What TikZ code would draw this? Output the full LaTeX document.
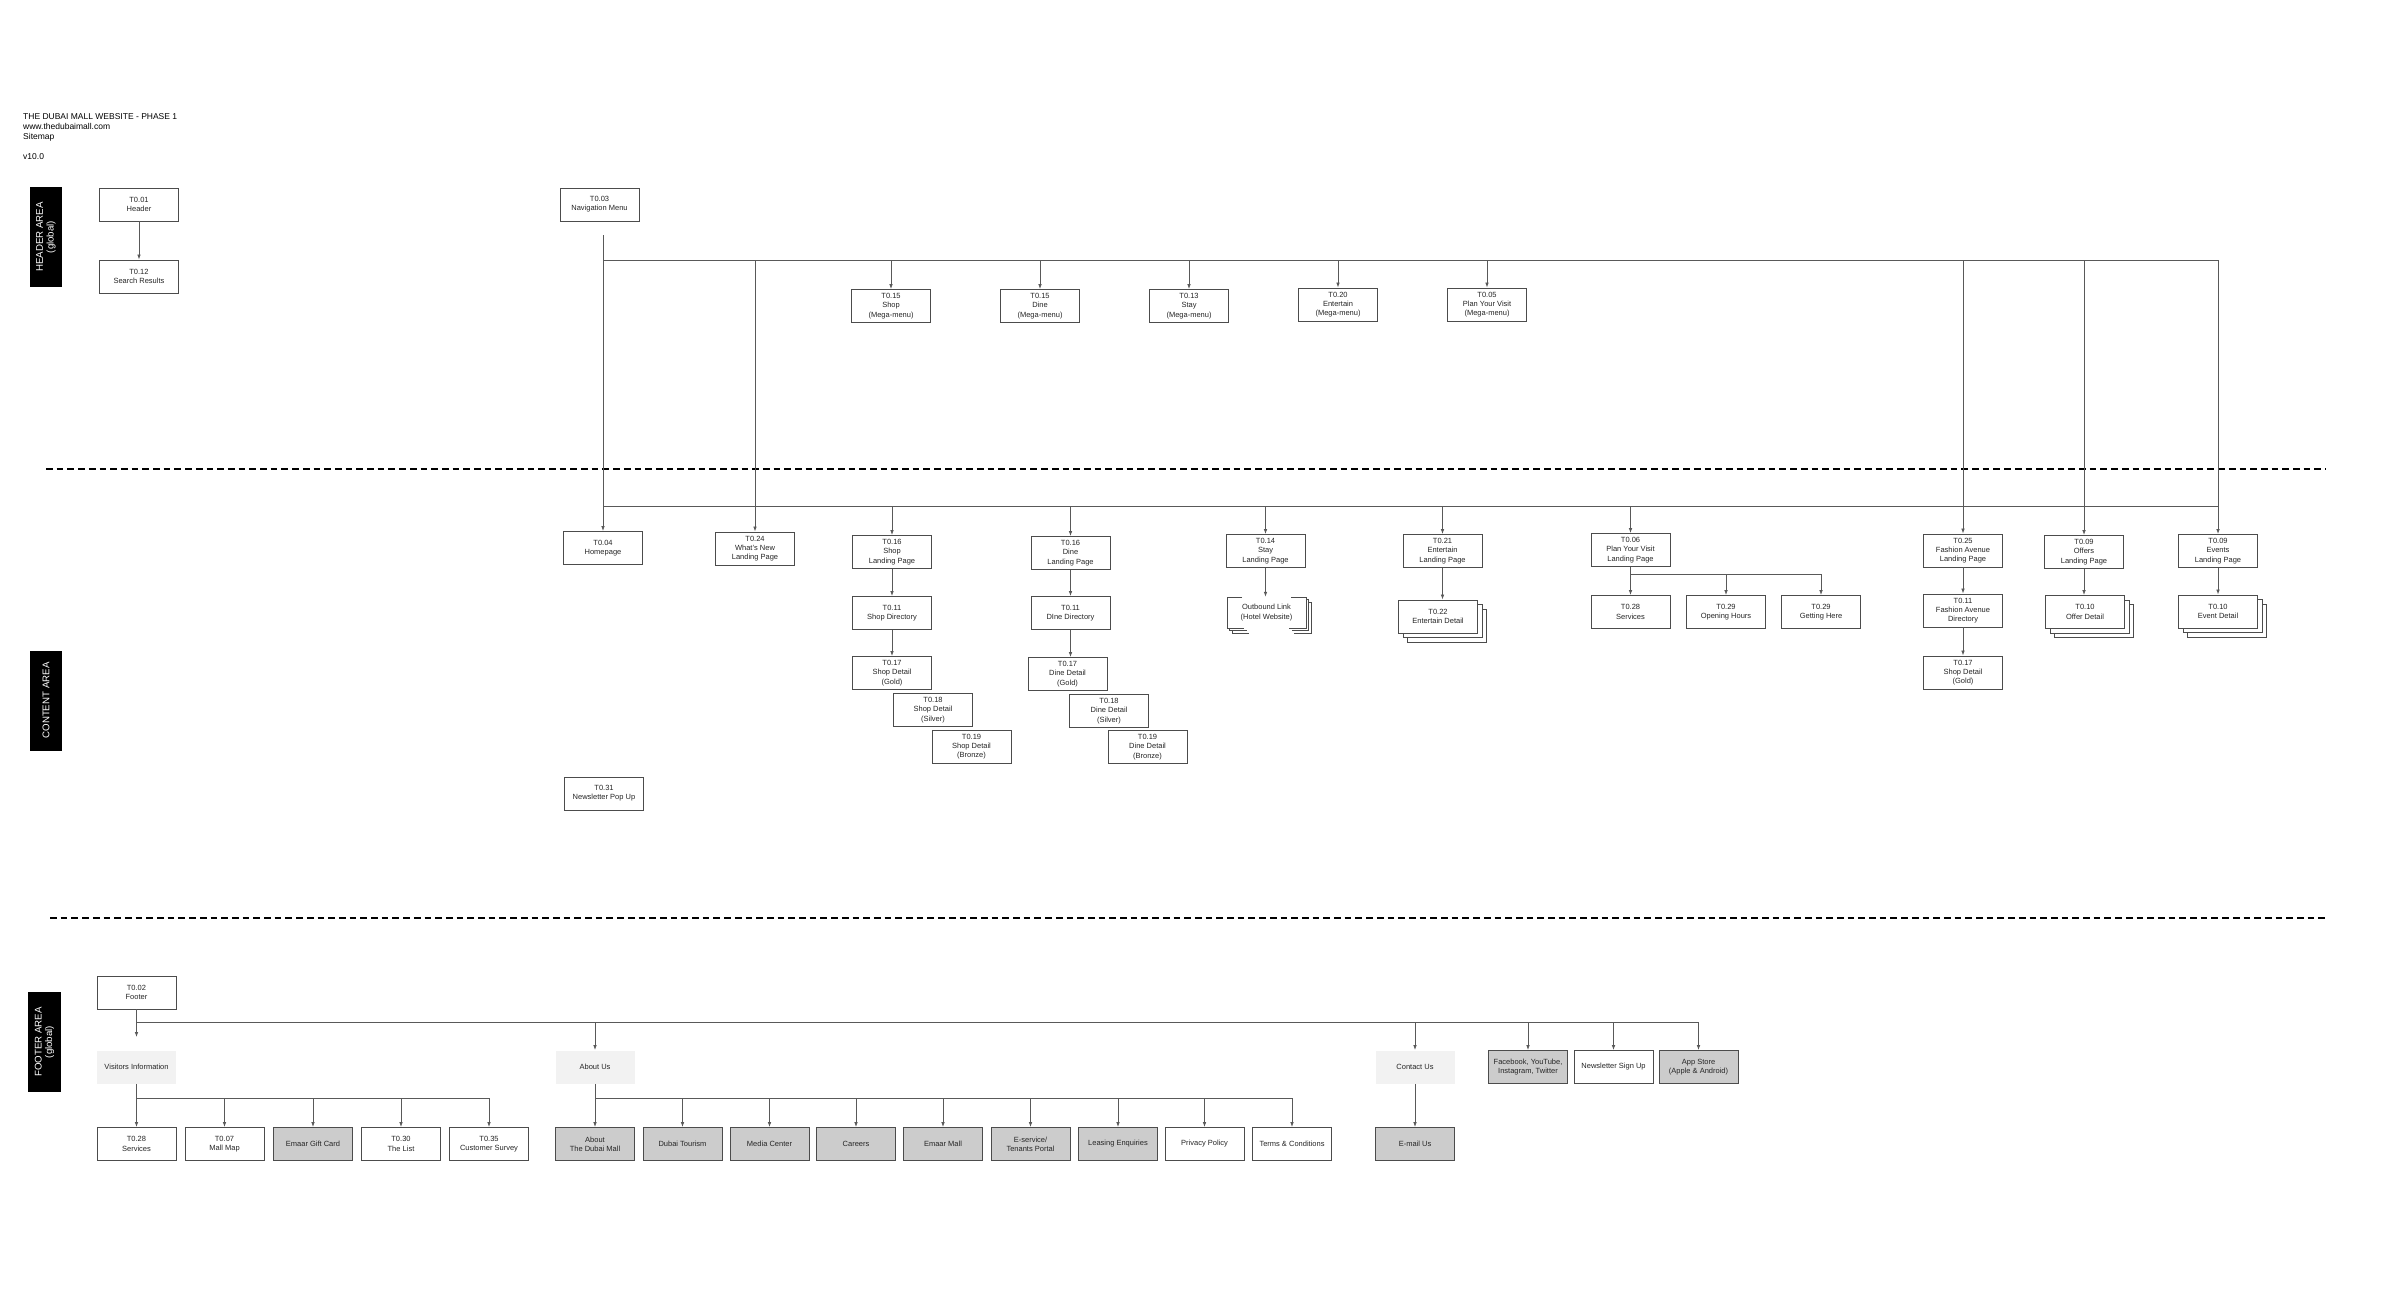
\documentclass[tikz,border=0pt]{standalone}
\usepackage{fontspec}
\setmainfont{Liberation Sans}
\usetikzlibrary{arrows.meta,shadows}
\begin{document}
\begin{tikzpicture}[x=1pt,y=-1pt,
 bx/.style={draw=black!70,line width=0.9pt,fill=white,minimum width=79pt,minimum height=33pt,inner sep=1pt,align=center,font=\fontsize{7.5}{9.3}\selectfont,text=black!85},
 gbx/.style={bx,fill=black!20},
 lbx/.style={bx,draw=none,fill=black!5},
 stk/.style={bx,
   general shadow={fill=white,draw=black!70,line width=0.9pt,shadow xshift=9pt,shadow yshift=-9pt},
   general shadow={fill=white,draw=black!70,line width=0.9pt,shadow xshift=4.5pt,shadow yshift=-4.5pt}},
 area/.style={fill=black,text=white,rotate=90,minimum width=100pt,minimum height=32.5pt,inner sep=0pt,align=center,font=\fontsize{9.7}{10.7}\selectfont},
 ln/.style={draw=black!65,line width=0.8pt},
 arr/.style={ln,-{Latex[length=5pt,width=3.6pt]}},
 sepline/.style={line width=2.7pt,dash pattern=on 6.7pt off 4pt},
 plain/.style={minimum width=79pt,minimum height=31pt,inner sep=1pt,align=center,font=\fontsize{7.5}{9.3}\selectfont,text=black!85}
]
\useasboundingbox[fill=white] (0,0) rectangle (2400,1300);

% title
\node[anchor=north west,inner sep=0pt,align=left,font=\fontsize{8.5}{10}\selectfont] (title) at (23,113.5)
 {THE DUBAI MALL WEBSITE - PHASE 1\\www.thedubaimall.com\\Sitemap\\[10pt]v10.0};

% area labels
\node[area] (ha) at (46,237) {HEADER AREA\\(global)};
\node[area] (ca) at (46,700.5) {CONTENT AREA};
\node[area] (fa) at (44.5,1042) {FOOTER AREA\\(global)};

% separators
\coordinate (s1a) at (46,469);
\coordinate (s1b) at (2326,469);
\coordinate (s2a) at (50,918);
\coordinate (s2b) at (2326,918);
\draw[sepline] (s1a) -- (s1b);
\draw[sepline] (s2a) -- (s2b);

% header area
\node[bx] (h01) at (139,204.5) {T0.01\\Header};
\node[bx] (h12) at (139,276.5) {T0.12\\Search Results};
\node[bx] (h03) at (599.5,204.5) {T0.03\\Navigation Menu};
\node[bx] (mm1) at (891,306) {T0.15\\Shop\\(Mega-menu)};
\node[bx] (mm2) at (1040,306) {T0.15\\Dine\\(Mega-menu)};
\node[bx] (mm3) at (1189,306) {T0.13\\Stay\\(Mega-menu)};
\node[bx] (mm4) at (1338,304.5) {T0.20\\Entertain\\(Mega-menu)};
\node[bx] (mm5) at (1487,304.5) {T0.05\\Plan Your Visit\\(Mega-menu)};

% content area
\node[bx] (home) at (603,548) {T0.04\\Homepage};
\node[bx] (wn) at (755,548.5) {T0.24\\What's New\\Landing Page};
\node[bx] (shoplp) at (892,552) {T0.16\\Shop\\Landing Page};
\node[bx] (shopdir) at (892,613) {T0.11\\Shop Directory};
\node[bx] (shopgold) at (892,673) {T0.17\\Shop Detail\\(Gold)};
\node[bx] (shopsilver) at (933,710) {T0.18\\Shop Detail\\(Silver)};
\node[bx] (shopbronze) at (971.5,746.5) {T0.19\\Shop Detail\\(Bronze)};
\node[bx] (dinelp) at (1070.5,553) {T0.16\\Dine\\Landing Page};
\node[bx] (dinedir) at (1070.5,613) {T0.11\\DIne Directory};
\node[bx] (dinegold) at (1067.5,674) {T0.17\\Dine Detail\\(Gold)};
\node[bx] (dinesilver) at (1109,711) {T0.18\\Dine Detail\\(Silver)};
\node[bx] (dinebronze) at (1147.5,747) {T0.19\\Dine Detail\\(Bronze)};
\node[bx] (news) at (604,793.5) {T0.31\\Newsletter Pop Up};
\node[bx] (staylp) at (1265.5,551) {T0.14\\Stay\\Landing Page};
\foreach \o in {5,2.5,0}{
  \fill[white] (1227+\o,597+\o) rectangle (1306+\o,628+\o);
  \draw[draw=black!70,line width=0.9pt] (1242+\o,597+\o) -- (1227+\o,597+\o) -- (1227+\o,628+\o) -- (1244+\o,628+\o);
  \draw[draw=black!70,line width=0.9pt] (1291+\o,597+\o) -- (1306+\o,597+\o) -- (1306+\o,628+\o) -- (1289+\o,628+\o);
}
\node[plain] (outb) at (1266.5,612.5) {Outbound Link\\(Hotel Website)};
\node[bx] (entlp) at (1442.5,551) {T0.21\\Entertain\\Landing Page};
\node[stk] (entdet) at (1438,616.5) {T0.22\\Entertain Detail};
\node[bx] (planlp) at (1630.5,550) {T0.06\\Plan Your Visit\\Landing Page};
\node[bx] (serv) at (1630.5,612) {T0.28\\Services};
\node[bx] (openh) at (1726,612) {T0.29\\Opening Hours};
\node[bx] (getting) at (1821,612) {T0.29\\Getting Here};
\node[bx] (fashlp) at (1963,550.5) {T0.25\\Fashion Avenue\\Landing Page};
\node[bx] (fashdir) at (1963,610.5) {T0.11\\Fashion Avenue\\Directory};
\node[bx] (fashgold) at (1963,672.5) {T0.17\\Shop Detail\\(Gold)};
\node[bx] (offlp) at (2084,552) {T0.09\\Offers\\Landing Page};
\node[stk] (offdet) at (2085,612) {T0.10\\Offer Detail};
\node[bx] (evlp) at (2218,551) {T0.09\\Events\\Landing Page};
\node[stk] (evdet) at (2218,611.5) {T0.10\\Event Detail};

% footer area
\node[bx] (f02) at (136.5,992.5) {T0.02\\Footer};
\node[lbx] (vi) at (136.5,1067) {Visitors Information};
\node[lbx] (about) at (595,1067) {About Us};
\node[lbx] (contact) at (1415,1067) {Contact Us};
\node[gbx] (fbk) at (1528,1067) {Facebook, YouTube,\\Instagram, Twitter};
\node[bx] (nsu) at (1613.5,1067) {Newsletter Sign Up};
\node[gbx] (app) at (1698.5,1067) {App Store\\(Apple \& Android)};
\node[bx] (fserv) at (136.5,1144) {T0.28\\Services};
\node[bx] (fmap) at (224.5,1144) {T0.07\\Mall Map};
\node[gbx] (fgift) at (313,1144) {Emaar Gift Card};
\node[bx] (flist) at (401,1144) {T0.30\\The List};
\node[bx] (fsurvey) at (489,1144) {T0.35\\Customer Survey};
\node[gbx] (atdm) at (595,1144) {About\\The Dubai Mall};
\node[gbx] (tour) at (682.5,1144) {Dubai Tourism};
\node[gbx] (media) at (769.5,1144) {Media Center};
\node[gbx] (careers) at (856,1144) {Careers};
\node[gbx] (emall) at (943,1144) {Emaar Mall};
\node[gbx] (eserv) at (1030.5,1144) {E-service/\\Tenants Portal};
\node[gbx] (leasing) at (1118,1144) {Leasing Enquiries};
\node[bx] (privacy) at (1204.5,1144) {Privacy Policy};
\node[bx] (terms) at (1292,1144) {Terms \& Conditions};
\node[gbx] (email) at (1415,1144) {E-mail Us};

% ---- connectors: header
\draw[arr] (h01) -- (h12);
\coordinate (nt) at (603,235);
\coordinate (nb) at (603,260);
\coordinate (cb) at (603,506);
\draw[ln] (nt) -- (cb);
\draw[ln] (nb) -- (evlp |- nb);
\foreach \n in {wn,fashlp,offlp,evlp}{\draw[ln] (\n |- nb) -- (\n |- cb);}
\foreach \n in {mm1,mm2,mm3,mm4,mm5}{\draw[arr] (\n |- nb) -- (\n);}

% ---- connectors: content
\draw[ln] (cb) -- (evlp |- cb);
\foreach \n in {home,wn,shoplp,dinelp,staylp,entlp,planlp,fashlp,offlp,evlp}{\draw[arr] (\n |- cb) -- (\n);}
\draw[arr] (shoplp) -- (shopdir);
\draw[arr] (shopdir) -- (shopgold);
\draw[arr] (dinelp) -- (dinedir);
\draw[arr] (dinedir) -- (dinedir |- dinegold.north);
\draw[arr] (staylp) -- (staylp |- outb.north);
\draw[arr] (entlp) -- (entlp |- entdet.north);
\coordinate (pb) at (1630.5,574);
\draw[ln] (planlp) -- (pb) -- (getting |- pb);
\foreach \n in {serv,openh,getting}{\draw[arr] (\n |- pb) -- (\n);}
\draw[arr] (fashlp) -- (fashdir);
\draw[arr] (fashdir) -- (fashgold);
\draw[arr] (offlp) -- (offlp |- offdet.north);
\draw[arr] (evlp) -- (evdet);

% ---- connectors: footer
\coordinate (fe) at (136.5,1037);
\draw[arr] (f02) -- (fe);
\coordinate (fb0) at (136.5,1022.7);
\draw[ln] (fb0) -- (app |- fb0);
\foreach \n in {about,contact,fbk,nsu,app}{\draw[arr] (\n |- fb0) -- (\n);}
\coordinate (vb) at (136.5,1098);
\draw[ln] (vi) -- (vb) -- (fsurvey |- vb);
\foreach \n in {fserv,fmap,fgift,flist,fsurvey}{\draw[arr] (\n |- vb) -- (\n);}
\coordinate (ab) at (595,1098);
\draw[ln] (about) -- (ab) -- (terms |- ab);
\foreach \n in {atdm,tour,media,careers,emall,eserv,leasing,privacy,terms}{\draw[arr] (\n |- ab) -- (\n);}
\draw[arr] (contact) -- (email);
\end{tikzpicture}
\end{document}
